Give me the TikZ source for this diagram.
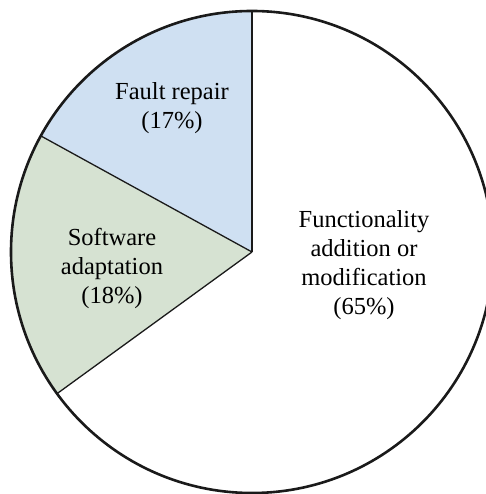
\documentclass[tikz,border=0pt]{standalone}
\usepackage{fontspec}
\setmainfont{Liberation Serif}
\definecolor{faultblue}{HTML}{CFE0F2}
\definecolor{adaptgreen}{HTML}{D6E2D2}
\definecolor{outline}{HTML}{1A1A1A}
\begin{document}
\begin{tikzpicture}[x=1pt,y=1pt,
  label/.style={align=center,inner sep=0pt,font=\fontsize{24.5}{29}\selectfont},
  divider/.style={draw=outline,line width=1.3pt},
  rim/.style={draw=outline,line width=2.6pt}]
\useasboundingbox (0,0) rectangle (485,494);
\coordinate (c) at (252,242);
\fill[faultblue] (c) -- ++(90:241) arc (90:151.2:241) -- cycle;
\fill[adaptgreen] (c) -- ++(151.2:241) arc (151.2:216:241) -- cycle;
\draw[divider] (c) -- ++(90:241);
\draw[divider] (c) -- ++(151.2:241);
\draw[divider] (c) -- ++(216:241);
\draw[rim] (c) circle (241);
\node[label] (fault) at (172,386) {Fault repair\\(17\%)};
\node[label] (adapt) at (112,226) {Software\\adaptation\\(18\%)};
\node[label] (func) at (364,229) {Functionality\\addition or\\modification\\(65\%)};
\end{tikzpicture}
\end{document}
